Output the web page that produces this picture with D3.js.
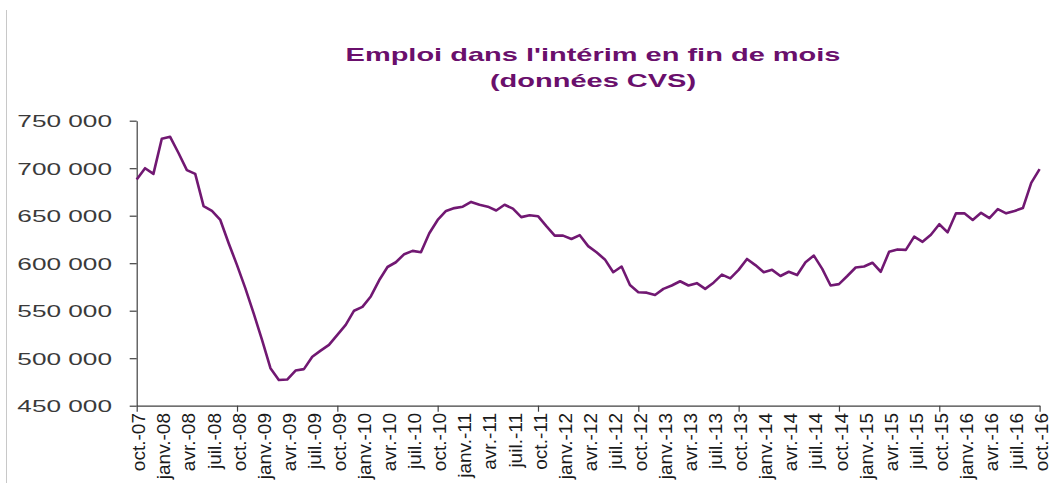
<!DOCTYPE html>
<html>
<head>
<meta charset="utf-8">
<script src="https://cdn.jsdelivr.net/npm/d3@7"></script>
<style>
  html, body { margin: 0; padding: 0; background: #ffffff; }
  svg { display: block; }
</style>
</head>
<body>
<svg id="chart" width="1051" height="486"></svg>
<script>
// ---- Data ----
const titleLines = ["Emploi dans l'intérim en fin de mois", "(données CVS)"];

// monthly categories from oct. 2007 to oct. 2016
const startMonth = new Date(2007, 9, 1);
const endMonth = new Date(2016, 10, 1);
const months = d3.timeMonth.range(startMonth, endMonth).map(d3.timeFormat("%Y-%m"));

// interim employment at end of month (seasonally adjusted)
const values = [
  688000, 700000, 694000, 731000, 733000, 716000, 698000, 694000, 660000, 655000,
  645500, 621000, 598000, 573500, 547000, 519000, 489500, 477000, 477500, 487000,
  488500, 501500, 508000, 514000, 524500, 535000, 550000, 554000, 565000, 582000,
  596000, 601000, 609500, 613000, 611500, 631500, 645500, 655000, 658000, 659500,
  664500, 661500, 659500, 655500, 661500, 657500, 648500, 650500, 649500, 639000,
  629000, 629000, 625500, 629500, 618000, 611500, 604000, 590500, 596500, 577000,
  569500, 569000, 566500, 573000, 576500, 581000, 576500, 579000, 573000, 579500,
  588000, 584000, 593000, 604500, 598000, 590500, 593000, 586500, 591000, 587500,
  601000, 608000, 594000, 576500, 578000, 586500, 595500, 596500, 600500, 591000,
  612000, 614500, 614000, 628000, 622500, 630000, 641000, 632500, 652500, 652500,
  645500, 653000, 647500, 657000, 652500, 655000, 658000, 684500, 699000
];

// category labels shown every three months
const tickLabels = [
  "oct.-07", "janv.-08", "avr.-08", "juil.-08",
  "oct.-08", "janv.-09", "avr.-09", "juil.-09",
  "oct.-09", "janv.-10", "avr.-10", "juil.-10",
  "oct.-10", "janv.-11", "avr.-11", "juil.-11",
  "oct.-11", "janv.-12", "avr.-12", "juil.-12",
  "oct.-12", "janv.-13", "avr.-13", "juil.-13",
  "oct.-13", "janv.-14", "avr.-14", "juil.-14",
  "oct.-14", "janv.-15", "avr.-15", "juil.-15",
  "oct.-15", "janv.-16", "avr.-16", "juil.-16",
  "oct.-16"
];
const yTicks = [450000, 500000, 550000, 600000, 650000, 700000, 750000];

// ---- Chart ----
const svg = d3.select("#chart");
const lineColor = "#711872";
const titleColor = "#6a0f6c";
const axisColor = "#404040";

const x = d3.scalePoint().domain(months).range([136.7, 1039.6]);
const y = d3.scaleLinear().domain([450000, 750000]).range([405.7, 120.7]);

// outer border line on the left
svg.append("line")
  .attr("x1", 6.5).attr("x2", 6.5).attr("y1", 10).attr("y2", 483)
  .attr("stroke", "#c8c8c8").attr("stroke-width", 1);

// title
const title = svg.append("g");
titleLines.forEach((t, i) => {
  title.append("text")
    .attr("transform", `translate(593,${61.3 + i * 25.4}) scale(1.63,1)`)
    .attr("text-anchor", "middle")
    .attr("font-family", "'Liberation Sans', Arial, sans-serif")
    .attr("font-weight", "bold")
    .attr("font-size", 17.8)
    .attr("fill", titleColor)
    .text(t);
});

// y axis
const fmt = d3.formatLocale({decimal: ",", thousands: " ", grouping: [3], currency: ["", " €"]}).format(",");
const yAxis = svg.append("g")
  .attr("transform", "translate(136.7,0)")
  .call(d3.axisLeft(y).tickValues(yTicks).tickSize(7).tickSizeOuter(0).tickFormat(fmt));
yAxis.select(".domain").attr("stroke", axisColor).attr("stroke-width", 1.2);
yAxis.selectAll(".tick line").attr("stroke", axisColor).attr("stroke-width", 1.2);
yAxis.selectAll(".tick text")
  .attr("x", null).attr("dy", null)
  .attr("transform", "translate(-24.7,6) scale(1.56,1)")
  .attr("text-anchor", "end")
  .attr("font-family", "'Liberation Sans', Arial, sans-serif")
  .attr("font-size", 16.8)
  .attr("fill", "#3a3a3a");

// x axis (marks every twelve months)
const yearTicks = months.filter((m, i) => i % 12 === 0);
const xAxis = svg.append("g")
  .attr("transform", "translate(0,405.7)")
  .call(d3.axisBottom(x).tickValues(yearTicks).tickSize(6).tickSizeOuter(0).tickFormat(""));
xAxis.select(".domain").attr("stroke", axisColor).attr("stroke-width", 1.2);
xAxis.selectAll(".tick line").attr("stroke", axisColor).attr("stroke-width", 1.2);

// rotated category labels every three months
const labelMonths = months.filter((m, i) => i % 3 === 0);
svg.append("g").selectAll("text")
  .data(labelMonths)
  .join("text")
  .attr("transform", (d) => `translate(${x(d) + 8.6},413) rotate(-90) scale(1.1,1.06)`)
  .attr("text-anchor", "end")
  .attr("font-family", "'Liberation Sans', Arial, sans-serif")
  .attr("font-size", 17.3)
  .attr("fill", "#1a1a1a")
  .text((d, i) => tickLabels[i]);

// line
const line = d3.line()
  .x((d, i) => x(months[i]))
  .y((d) => y(d));
svg.append("path")
  .datum(values)
  .attr("fill", "none")
  .attr("stroke", lineColor)
  .attr("stroke-width", 2.6)
  .attr("stroke-linejoin", "round")
  .attr("d", line);
</script>
</body>
</html>
